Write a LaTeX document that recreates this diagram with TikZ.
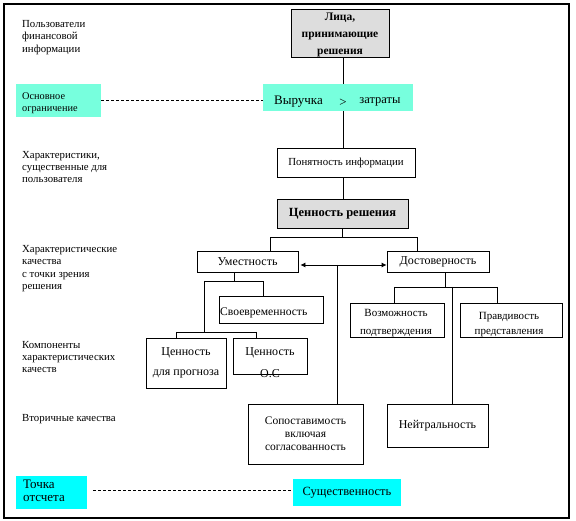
\documentclass[tikz,border=0pt]{standalone}
\usepackage{fontspec}
\setmainfont{Liberation Serif}
\usetikzlibrary{arrows.meta}
\definecolor{graybox}{RGB}{221,221,221}
\definecolor{aqua}{RGB}{119,255,221}
\definecolor{cyanbox}{RGB}{0,255,255}
\tikzset{
 bx/.style={draw=black, line width=0.8pt, inner sep=0pt, align=center},
 fl/.style={inner sep=0pt, align=center},
 lbl/.style={inner sep=0pt, align=left, anchor=west, font=\fontsize{10.8}{12.4}\selectfont},
 ln/.style={line width=0.8pt},
 dsh/.style={line width=0.6pt, dash pattern=on 3pt off 2pt},
}
\begin{document}
\begin{tikzpicture}[x=1pt,y=-1pt]
\useasboundingbox (0,0) rectangle (576,521);
\draw[line width=1.2pt] (4,4) rectangle (569,518);

% left labels
\node[lbl] (l1) at (22,37.5) {Пользователи\\финансовой\\информации};
\node[lbl] (l2) at (22,167) {Характеристики,\\существенные для\\пользователя};
\node[lbl] (l3) at (22,268.5) {Характеристические\\качества\\с точки зрения\\решения};
\node[lbl] (l4) at (22,357) {Компоненты\\характеристических\\качеств};
\node[lbl] (l5) at (22,419) {Вторичные качества};

% cyan boxes
\node[fl, fill=aqua, minimum width=85pt, minimum height=33pt] (constr) at (58.5,100.5) {};
\node[lbl, font=\fontsize{10.3}{12}\selectfont] (constrt) at (22,103) {Основное\\ограничение};
\node[fl, fill=aqua, minimum width=150pt, minimum height=27pt] (rev) at (338,97.5) {};
\node[fl, font=\fontsize{13}{15}\selectfont] (revt1) at (298.5,102) {Выручка};
\node[fl, font=\fontsize{13}{15}\selectfont] (revt2) at (343,103) {>};
\node[fl, font=\fontsize{12.5}{15}\selectfont] (revt3) at (380,102) {затраты};

\node[fl, fill=cyanbox, minimum width=71pt, minimum height=33pt] (ref) at (51.5,492.5) {};
\node[lbl, font=\fontsize{13}{13}\selectfont] (reft) at (23,490.5) {Точка\\отсчета};
\node[fl, fill=cyanbox, minimum width=108pt, minimum height=27pt, font=\fontsize{12.5}{15}\selectfont] (mat) at (347,492.5) {Существенность};

% main boxes
\node[bx, fill=graybox, minimum width=98pt, minimum height=48pt] (top) at (340,33) {};
\node[fl, font=\bfseries\fontsize{11.5}{17}\selectfont] (topt) at (340,35) {Лица,\\принимающие\\решения};
\node[bx, minimum width=138pt, minimum height=29pt, font=\fontsize{10.8}{13}\selectfont] (clar) at (346,162.5) {Понятность информации};
\node[bx, fill=graybox, minimum width=131pt, minimum height=29pt, font=\bfseries\fontsize{12.5}{13}\selectfont] (val) at (342.5,213.5) {Ценность решения};
\node[bx, minimum width=101pt, minimum height=21pt, font=\fontsize{12}{13}\selectfont] (rel) at (247.5,261.5) {Уместность};
\node[bx, minimum width=102pt, minimum height=21pt, font=\fontsize{12}{13}\selectfont] (dost) at (438,261.5) {Достоверность};
\node[bx, minimum width=104pt, minimum height=27pt] (time) at (271,309.5) {};
\node[fl, anchor=west, font=\fontsize{11.6}{13}\selectfont] (timet) at (220,313) {Своевременность};
\node[bx, minimum width=80pt, minimum height=50pt, font=\fontsize{12}{20}\selectfont] (pred) at (186,363) {Ценность\\для прогноза};
\node[bx, minimum width=74pt, minimum height=36pt] (fb) at (270,356) {};
\node[fl, font=\fontsize{12}{13}\selectfont] (fbt1) at (270,353) {Ценность};
\node[fl, font=\fontsize{12}{13}\selectfont] (fbt2) at (270,374) {О.С};
\node[bx, minimum width=94pt, minimum height=34pt] (ver) at (397,320) {};
\node[fl, font=\fontsize{11}{18}\selectfont] (vert) at (396,323) {Возможность\\подтверждения};
\node[bx, minimum width=102pt, minimum height=34pt] (faith) at (511,320) {};
\node[fl, font=\fontsize{11}{15}\selectfont] (faitht) at (509,324.5) {Правдивость\\представления};
\node[bx, minimum width=115pt, minimum height=60pt, font=\fontsize{11.5}{13}\selectfont] (comp) at (305.5,434) {Сопоставимость\\включая\\согласованность};
\node[bx, minimum width=101pt, minimum height=43pt, font=\fontsize{12}{13}\selectfont] (neut) at (437.5,425.5) {Нейтральность};

% connectors
\coordinate (spine) at (343,0);
\draw[ln] (top.south -| spine) -- (rev.north -| spine);
\draw[ln] (rev.south -| spine) -- (clar.north -| spine);
\draw[ln] (clar.south -| spine) -- (val.north -| spine);
\coordinate (j1) at (270,237);
\coordinate (j2) at (417,237);
\draw[ln] (val.south) -- (val.south |- j1);
\draw[ln] (rel.north -| j1) |- (j2) -- (dost.north -| j2);

\coordinate (arr) at (337,265);
\draw[ln, {Latex[length=5pt,width=5pt]}-{Latex[length=5pt,width=5pt]}] ([xshift=2pt]rel.east |- arr) -- (dost.west |- arr);
\draw[ln] (arr) -- (comp.north -| arr);

\coordinate (u1) at (234,281);
\coordinate (u2) at (204,281);
\coordinate (u3) at (263,281);
\coordinate (u4) at (176,332);
\coordinate (u5) at (256,332);
\draw[ln] (rel.south -| u1) -- (u1);
\draw[ln] (u2) -- (u3) -- (time.north -| u3);
\draw[ln] (u2) -- (u2 |- u4);
\draw[ln] (u4) -- (u5);
\draw[ln] (u4) -- (pred.north -| u4);
\draw[ln] (u5) -- (fb.north -| u5);

\coordinate (d1) at (445,287);
\coordinate (d2) at (394,287);
\coordinate (d3) at (497,287);
\coordinate (d4) at (452,287);
\draw[ln] (dost.south -| d1) -- (d1);
\draw[ln] (d2) -- (d3);
\draw[ln] (d2) -- (ver.north -| d2);
\draw[ln] (d3) -- (faith.north -| d3);
\draw[ln] (d4) -- (neut.north -| d4);

% dashed
\draw[dsh] (constr.east |- 0,100) -- (rev.west |- 0,100);
\draw[dsh, shorten <=6pt] (ref.east |- 0,490) -- (mat.west |- 0,490);
\end{tikzpicture}
\end{document}
